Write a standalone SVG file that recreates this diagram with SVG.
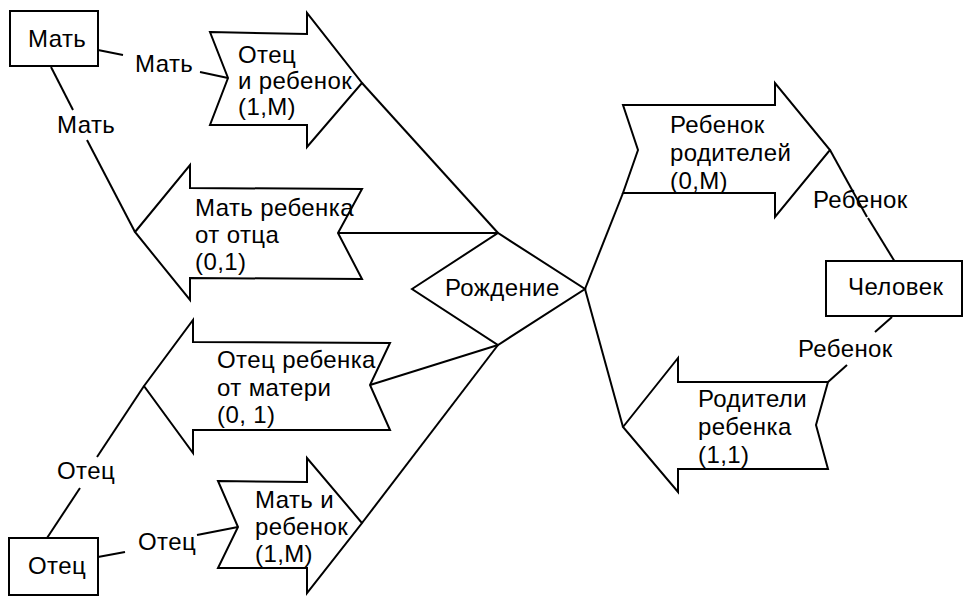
<svg xmlns="http://www.w3.org/2000/svg" width="974" height="606" viewBox="0 0 974 606">
<style>
.s{fill:#fff;stroke:#000;stroke-width:2;stroke-linejoin:miter}
.c{fill:none;stroke:#000;stroke-width:2}
text{font-family:"Liberation Sans",Arial,sans-serif;font-size:24px;letter-spacing:0.4px;fill:#000}
</style>
<rect width="974" height="606" fill="#fff"/>
<g id="connectors">
<polyline class="c" points="98,50 123,55"/>
<polyline class="c" points="200,72 228,78"/>
<polyline class="c" points="51,67 73,110"/>
<polyline class="c" points="87,140 135,232"/>
<polyline class="c" points="362,83 498,233"/>
<polyline class="c" points="338,233 498,233"/>
<polyline class="c" points="370,385 498,345"/>
<polyline class="c" points="362,523 498,345"/>
<polyline class="c" points="144,386 97,457"/>
<polyline class="c" points="80,488 47,538"/>
<polyline class="c" points="98,557 125,552"/>
<polyline class="c" points="197,535 238,527"/>
<polyline class="c" points="585,289 623,193"/>
<polyline class="c" points="585,289 623,427"/>
<polyline class="c" points="830,150 867,217"/>
<polyline class="c" points="868,218 895,262"/>
<polyline class="c" points="892,317 875,332"/>
<polyline class="c" points="847,365 828,382"/>
<text x="135" y="72">Мать</text>
<text x="57" y="133">Мать</text>
<text x="57" y="479">Отец</text>
<text x="138" y="550">Отец</text>
<text x="813" y="208">Ребенок</text>
<text x="798" y="357">Ребенок</text>
</g>
<g id="mat">
<rect class="s" x="10" y="11" width="88" height="55"/>
<text x="28" y="47">Мать</text>
</g>
<g id="otec">
<rect class="s" x="9" y="538" width="89" height="57"/>
<text x="28" y="574">Отец</text>
</g>
<g id="chelovek">
<rect class="s" x="826" y="261" width="136" height="55"/>
<text x="848" y="295">Человек</text>
</g>
<g id="rozhdenie">
<polygon class="s" points="412,289 498,233 585,289 498,345"/>
<text x="445" y="296">Рождение</text>
</g>
<g id="otec-i-rebenok">
<polygon class="s" points="210,32 307,34 307,13 362,83 307,147 307,125 210,125 228,78"/>
<text x="238" y="63">Отец</text>
<text x="238" y="89">и ребенок</text>
<text x="238" y="115">(1,M)</text>
</g>
<g id="mat-rebenka-ot-otca">
<polygon class="s" points="135,232 190,165 190,188 362,189 338,233 362,279 190,278 190,300"/>
<text x="195" y="216">Мать ребенка</text>
<text x="195" y="243">от отца</text>
<text x="195" y="270">(0,1)</text>
</g>
<g id="otec-rebenka-ot-materi">
<polygon class="s" points="144,386 193,320 193,342 390,343 370,385 390,430 193,430 193,453"/>
<text x="217" y="368">Отец ребенка</text>
<text x="217" y="396">от матери</text>
<text x="217" y="423">(0, 1)</text>
</g>
<g id="mat-i-rebenok">
<polygon class="s" points="218,481 307,482 307,458 362,523 307,593 307,568 218,568 238,527"/>
<text x="255" y="508">Мать и</text>
<text x="255" y="535">ребенок</text>
<text x="255" y="562">(1,M)</text>
</g>
<g id="rebenok-roditelej">
<polygon class="s" points="623,105 775,105 775,83 830,150 775,217 775,193 623,193 638,150"/>
<text x="670" y="133">Ребенок</text>
<text x="670" y="161">родителей</text>
<text x="670" y="189">(0,M)</text>
</g>
<g id="roditeli-rebenka">
<polygon class="s" points="623,427 678,358 678,382 828,382 816,425 828,469 678,469 678,492"/>
<text x="698" y="407">Родители</text>
<text x="698" y="435">ребенка</text>
<text x="698" y="463">(1,1)</text>
</g>
</svg>
